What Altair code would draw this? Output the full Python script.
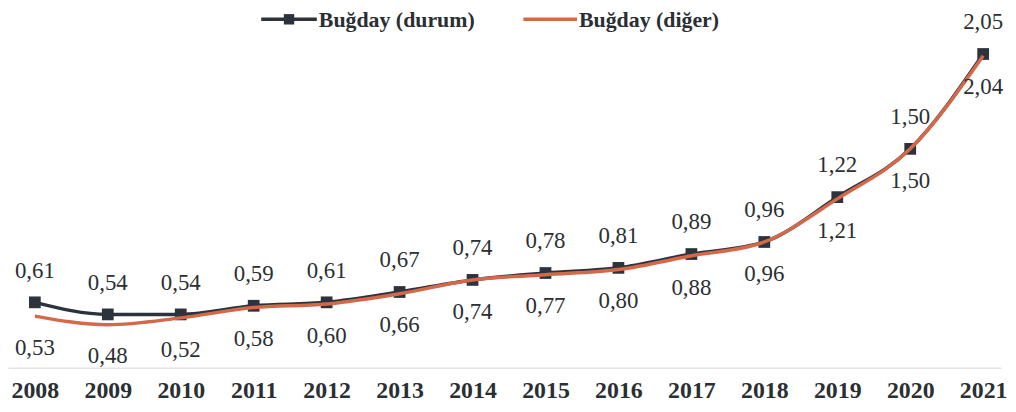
import altair as alt
import pandas as pd

years = list(range(2008, 2022))
durum = [0.61, 0.54, 0.54, 0.59, 0.61, 0.67, 0.74, 0.78, 0.81, 0.89, 0.96, 1.22, 1.50, 2.05]
diger = [0.53, 0.48, 0.52, 0.58, 0.60, 0.66, 0.74, 0.77, 0.80, 0.88, 0.96, 1.21, 1.50, 2.04]
series_names = ["Buğday (durum)", "Buğday (diğer)"]

DARK = "#2c333d"
ORANGE = "#d4694a"
TXT = "#2a2f33"
FONT = "Liberation Serif"

df = pd.DataFrame({
    "year": years * 2,
    "value": durum + diger,
    "series": [series_names[0]] * len(years) + [series_names[1]] * len(years),
})

xscale = alt.Scale(domain=[2007.632, 2021.245], nice=False, zero=False)
yscale = alt.Scale(domain=[0.23, 2.303], nice=False, zero=False)

X = alt.X("year:Q", scale=xscale,
          axis=alt.Axis(values=years, format="d", title=None, grid=False, ticks=False,
                        domainColor="#e3e3e3", domainWidth=1.5, labelFont=FONT,
                        labelFontSize=24, labelFontWeight="bold", labelColor=TXT,
                        labelPadding=11, labelFlush=False, labelOverlap=False))
Y = alt.Y("value:Q", scale=yscale, axis=None)

base = alt.Chart(df).encode(x=X, y=Y).transform_calculate(
    label="replace(format(datum.value, '.2f'), '.', ',')")

d_base = base.transform_filter(alt.datum.series == series_names[0])
o_base = base.transform_filter(alt.datum.series == series_names[1])

durum_line = d_base.mark_line(color=DARK, strokeWidth=3.5, interpolate="monotone")
durum_pts = d_base.mark_square(color=DARK, size=140, opacity=1)
diger_line = o_base.mark_line(color=ORANGE, strokeWidth=3.5, interpolate="monotone")

durum_txt = d_base.mark_text(dy=-32, font=FONT, fontSize=23, color=TXT).encode(text="label:N")
diger_txt = o_base.mark_text(dy=32, font=FONT, fontSize=23, color=TXT).encode(text="label:N")

leg = alt.Chart(pd.DataFrame({"a": [0]}))
leg1_line = leg.mark_rule(color=DARK, strokeWidth=3.5).encode(
    x=alt.value(255), x2=alt.value(311), y=alt.value(9))
leg1_sq = leg.mark_square(color=DARK, size=110, opacity=1).encode(
    x=alt.value(283), y=alt.value(9))
leg1_txt = leg.mark_text(align="left", baseline="middle", font=FONT, fontSize=22,
                         fontWeight="bold", color=TXT).encode(
    x=alt.value(313), y=alt.value(10), text=alt.value(series_names[0]))
leg2_line = leg.mark_rule(color=ORANGE, strokeWidth=3.5).encode(
    x=alt.value(519), x2=alt.value(573), y=alt.value(9))
leg2_txt = leg.mark_text(align="left", baseline="middle", font=FONT, fontSize=22,
                         fontWeight="bold", color=TXT).encode(
    x=alt.value(575), y=alt.value(10), text=alt.value(series_names[1]))

chart = alt.layer(
    durum_line, durum_pts, diger_line, durum_txt, diger_txt,
    leg1_line, leg1_sq, leg1_txt, leg2_line, leg2_txt,
).properties(width=1000, height=360, padding=0).configure_view(stroke=None)

chart.save("out.html", embed_options={"renderer": "svg", "actions": False})
